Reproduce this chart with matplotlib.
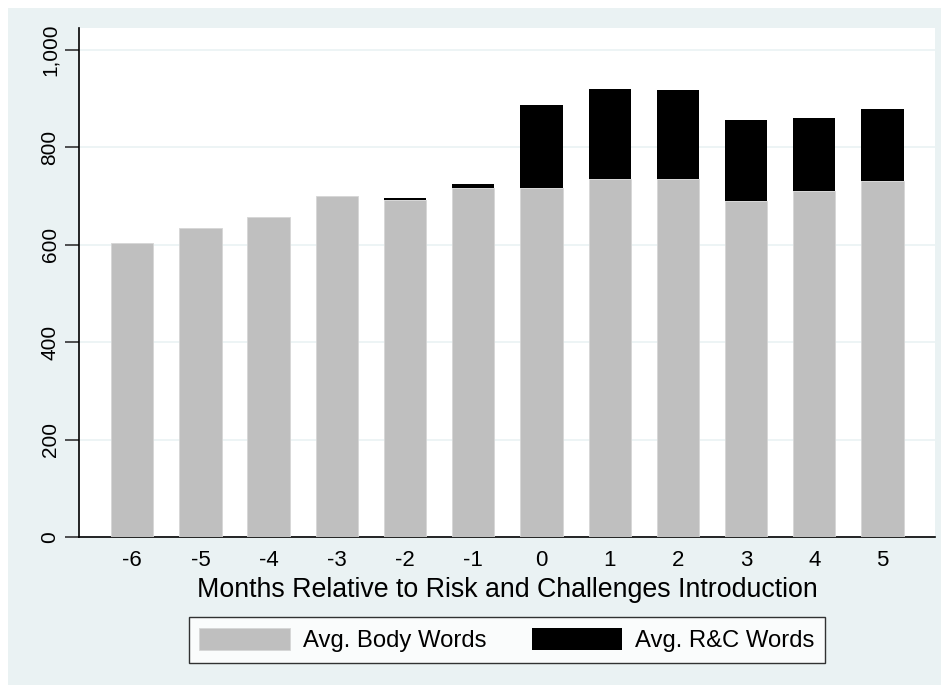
import matplotlib.pyplot as plt
from matplotlib.patches import Rectangle
from matplotlib.ticker import FuncFormatter

months = [-6, -5, -4, -3, -2, -1, 0, 1, 2, 3, 4, 5]
body_words = [604, 635, 657, 701, 691, 717, 716, 735, 735, 690, 710, 730]
rc_words = [0, 0, 0, 0, 4, 7, 170, 184, 182, 166, 151, 148]

bg = "#EAF2F3"
gray = "#BFBFBF"

plt.rcParams['font.family'] = ['Liberation Sans', 'DejaVu Sans']

fig = plt.figure(figsize=(9.49, 6.93), dpi=100)
fig.patch.set_facecolor("white")
# stata style graph region
fig.patches.append(Rectangle((8/949, 8/693), 933/949, 677/693, transform=fig.transFigure,
                             facecolor=bg, edgecolor="none", zorder=-10))

ax = fig.add_axes([79/949, 1 - 537/693, 856/949, 509/693])
ax.set_facecolor("white")

ax.bar(months, body_words, width=0.62, color=gray, edgecolor="#D6D6D6", linewidth=0.6,
       label="Avg. Body Words", zorder=3)
ax.bar(months, rc_words, width=0.62, bottom=body_words, color="black", linewidth=0,
       label="Avg. R&C Words", zorder=3)

ax.set_xlim(-6.78, 5.77)
ax.set_ylim(0, 1045)
ax.set_yticks([0, 200, 400, 600, 800, 1000])
ax.yaxis.set_major_formatter(FuncFormatter(lambda v, p: f"{int(v):,}"))
ax.set_xticks(months)
ax.set_xticklabels([str(m) for m in months])
ax.tick_params(axis='x', length=0, labelsize=16, pad=9)
ax.tick_params(axis='y', length=10, width=1.2, labelsize=15, pad=4, color="#333333")
for lab in ax.get_yticklabels():
    lab.set_rotation(90)
    lab.set_va("center")

ax.grid(axis='y', color=bg, linewidth=1.2, zorder=0)
ax.spines['top'].set_visible(False)
ax.spines['right'].set_visible(False)
ax.spines['left'].set_linewidth(1.2)
ax.spines['bottom'].set_linewidth(1.2)

ax.set_xlabel("Months Relative to Risk and Challenges Introduction", fontsize=19.3, labelpad=5)

leg = fig.legend(loc='center', bbox_to_anchor=(507/949, 1 - 640/693),
                 ncol=2, handlelength=3.8, handleheight=1.05, handletextpad=0.54,
                 fontsize=17.2, frameon=True, fancybox=False, borderaxespad=0, borderpad=0.45,
                 columnspacing=1.88)
leg.get_frame().set_edgecolor("black")
leg.get_frame().set_linewidth(1.0)

fig.savefig("out.png", dpi=100)
